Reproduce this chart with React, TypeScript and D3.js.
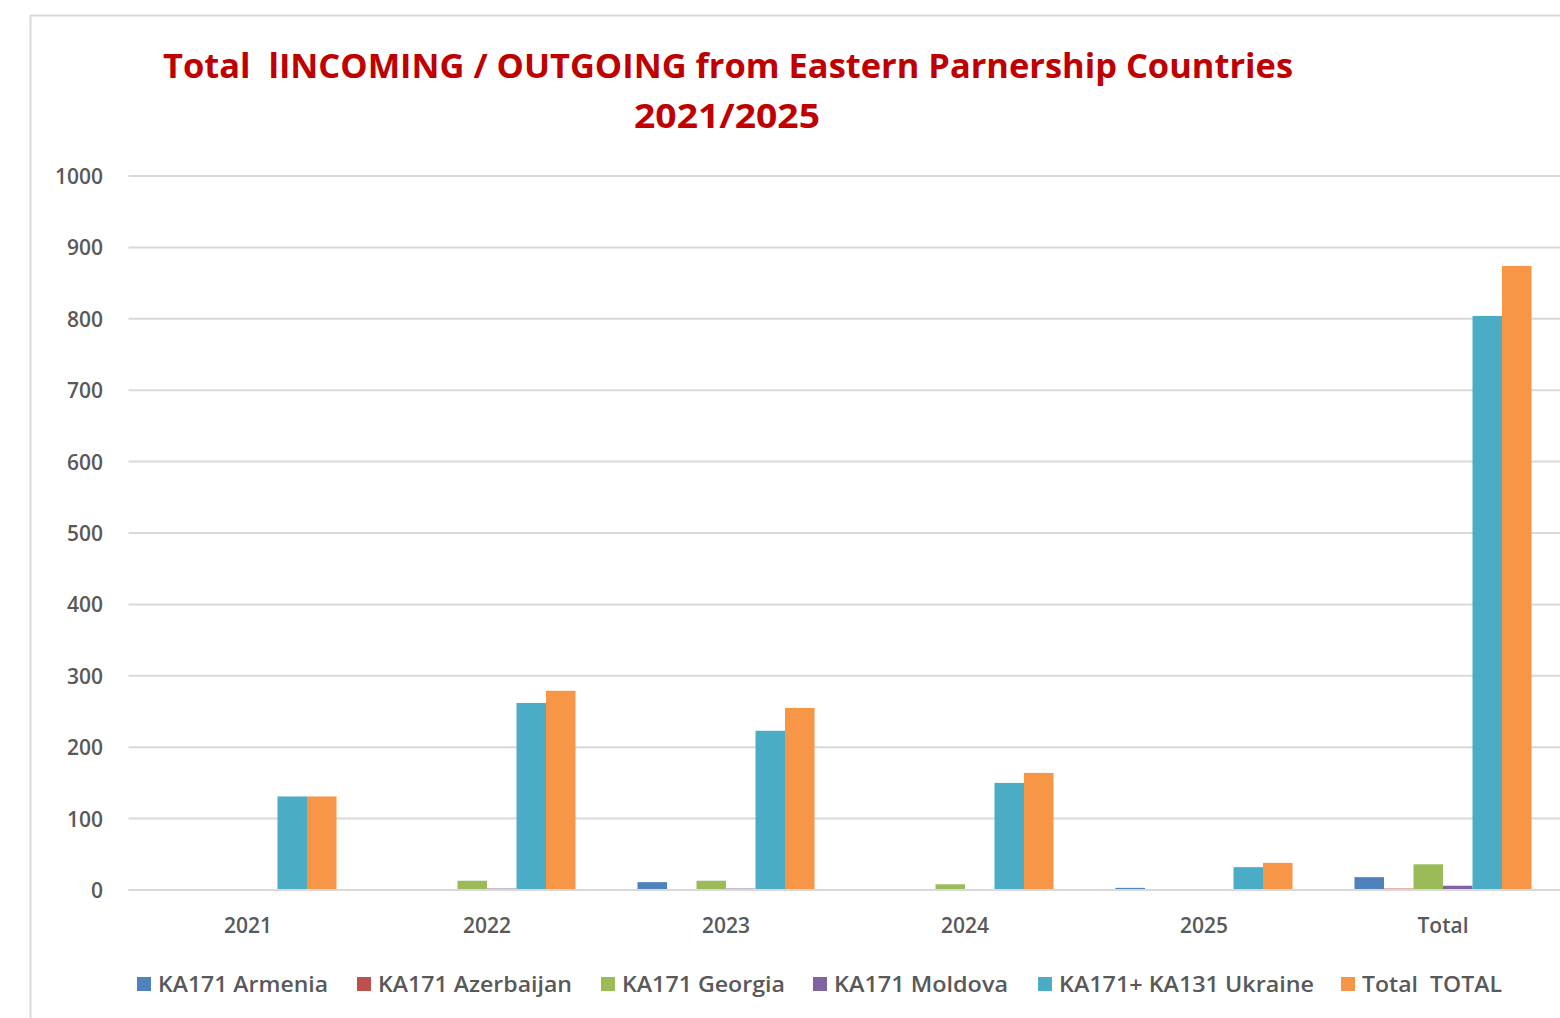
import React from "react";
import * as d3 from "d3";

const categories = ["2021", "2022", "2023", "2024", "2025", "Total"];
const seriesNames = [
  "KA171 Armenia",
  "KA171 Azerbaijan",
  "KA171 Georgia",
  "KA171 Moldova",
  "KA171+ KA131 Ukraine",
  "Total  TOTAL",
];
const armenia = [0, 0, 11, 0, 3, 18];
const azerbaijan = [0, 0, 0, 0, 0, 2];
const georgia = [0, 13, 13, 8, 0, 36];
const moldova = [0, 2, 2, 0, 0, 6];
const ukraine = [131, 262, 223, 150, 32, 804];
const total = [131, 279, 255, 164, 38, 874];
const seriesValues = [armenia, azerbaijan, georgia, moldova, ukraine, total];
const colors = ["#4F81BD", "#C0504D", "#9BBB59", "#8064A2", "#4BACC6", "#F79646"];
const yTicks = [0, 100, 200, 300, 400, 500, 600, 700, 800, 900, 1000];

const W = 1560;
const H = 1018;
const PLOT = { left: 128.5, right: 1562.5, top: 176, bottom: 890 };
const LEGEND_X = [137, 357, 601, 813, 1038, 1341];
const LEGEND_W = [170, 194, 163, 174, 255, 140];
const TITLE_FONT = "'Open Sans', 'Liberation Sans', sans-serif";
const FONT = "'Open Sans', 'Liberation Sans', sans-serif";

export default function App() {
  const y = d3.scaleLinear().domain([0, 1000]).range([PLOT.bottom, PLOT.top]);
  const x0 = d3.scaleBand().domain(categories).range([PLOT.left, PLOT.right]).padding(0);
  const x1 = d3
    .scaleBand()
    .domain(seriesNames)
    .range([0, x0.bandwidth()])
    .paddingInner(0)
    .paddingOuter(1.05);

  return (
    <svg
      width={W}
      height={H}
      style={{ position: "absolute", left: 0, top: 0, background: "#fff" }}
    >
      <rect x={0} y={0} width={W} height={H} fill="#fff" />
      <rect x={30.5} y={15.5} width={W} height={H} fill="#fff" stroke="#d9d9d9" strokeWidth={2} />
      <text
        x={728}
        y={78}
        textAnchor="middle"
        fill="#C00000"
        fontFamily={TITLE_FONT}
        fontWeight="bold"
        fontSize={34}
        textLength={1130}
        lengthAdjust="spacingAndGlyphs"
        style={{ whiteSpace: "pre" }}
      >
        {"Total  lINCOMING / OUTGOING from Eastern Parnership Countries"}
      </text>
      <text
        x={727}
        y={128}
        textAnchor="middle"
        fill="#C00000"
        fontFamily={TITLE_FONT}
        fontWeight="bold"
        fontSize={34}
        textLength={186}
        lengthAdjust="spacingAndGlyphs"
      >
        2021/2025
      </text>
      {yTicks.map((t) => (
        <g key={t}>
          <line
            x1={PLOT.left}
            x2={W}
            y1={y(t)}
            y2={y(t)}
            stroke="#d9d9d9"
            strokeWidth={2}
          />
          <text
            x={103}
            y={y(t) + 8}
            textAnchor="end"
            fill="#595959"
            fontFamily={FONT}
            fontWeight={600}
            fontSize={21}
          >
            {t}
          </text>
        </g>
      ))}
      {categories.map((c, ci) => (
        <g key={c} transform={`translate(${x0(c)},0)`}>
          {seriesNames.map((s, si) => {
            const v = seriesValues[si][ci];
            return (
              <rect
                key={s}
                x={x1(s)}
                y={y(v)}
                width={x1.bandwidth()}
                height={PLOT.bottom - y(v)}
                fill={colors[si]}
              />
            );
          })}
          <text
            x={x0.bandwidth() / 2}
            y={933}
            textAnchor="middle"
            fill="#595959"
            fontFamily={FONT}
            fontWeight={600}
            fontSize={21}
          >
            {c}
          </text>
        </g>
      ))}
      <line x1={PLOT.left} x2={W} y1={y(0)} y2={y(0)} stroke="#d9d9d9" strokeWidth={2} />
      {seriesNames.map((s, i) => (
        <g key={s} transform={`translate(${LEGEND_X[i]},0)`}>
          <rect x={0} y={977} width={14} height={14} fill={colors[i]} />
          <text
            x={21}
            y={992}
            fill="#595959"
            fontFamily={FONT}
            fontWeight={600}
            fontSize={22}
            textLength={LEGEND_W[i]}
            lengthAdjust="spacingAndGlyphs"
            style={{ whiteSpace: "pre" }}
          >
            {s}
          </text>
        </g>
      ))}
    </svg>
  );
}
